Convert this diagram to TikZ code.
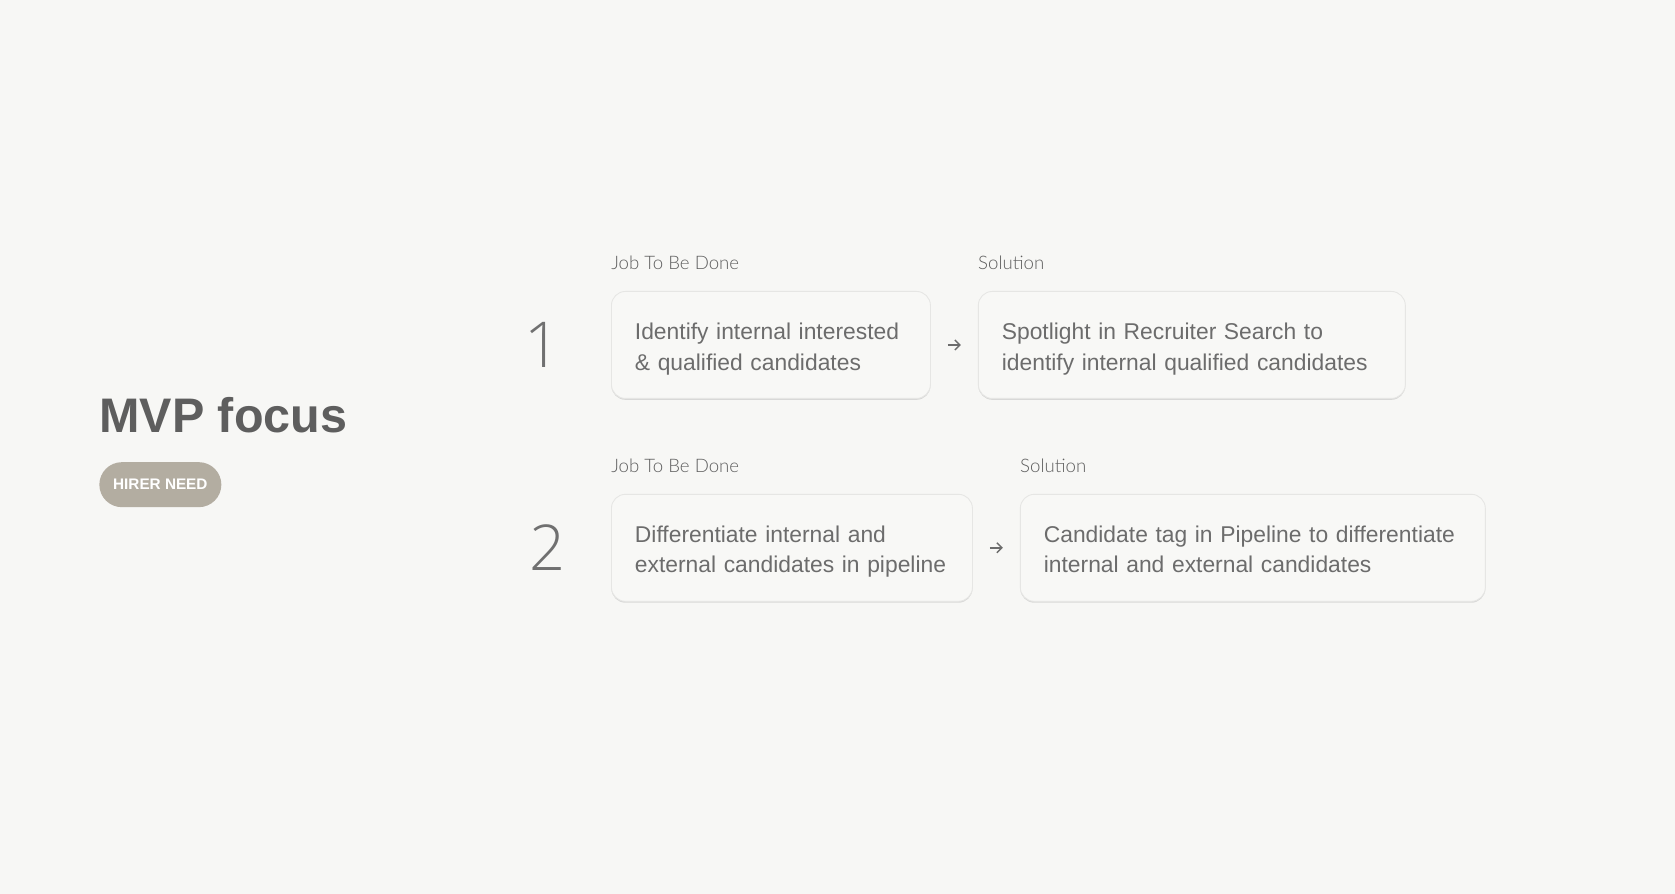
\documentclass[tikz,border=0pt]{standalone}
\usepackage{fontspec}
\setmainfont{Liberation Sans}
\newfontfamily\thinfont{Lato Light}
\newfontfamily\hairfont{Open Sans Light}
\usetikzlibrary{positioning, calc, shadows, arrows.meta}
\definecolor{bgcol}{HTML}{F7F7F5}
\definecolor{boxfill}{HTML}{F8F8F6}
\definecolor{boxline}{HTML}{E6E6E4}
\definecolor{boxtext}{HTML}{6C6C6C}
\definecolor{titlecol}{HTML}{5E5E5E}
\definecolor{pillcol}{HTML}{B3ADA1}
\definecolor{labelcol}{HTML}{5F5F5F}
\definecolor{numcol}{HTML}{707070}
\tikzstyle{jobbox} = [rectangle, rounded corners=0.28cm, draw=boxline, line width=0.5pt, fill=boxfill, inner xsep=0.47cm, minimum height=2.14cm, align=left, text=boxtext, font=\fontsize{13}{17.2}\selectfont, execute at begin node={\rule{0pt}{0.5cm}}, execute at end node={\rule[-0.1cm]{0pt}{0.1cm}}, drop shadow={shadow xshift=0pt, shadow yshift=-0.8pt, opacity=0.12, fill=black}]
\tikzstyle{colhead} = [inner sep=0pt, text=labelcol, font=\thinfont\fontsize{10.6}{12}\selectfont]
\tikzstyle{stepnum} = [inner sep=0pt, text=numcol, font=\hairfont\fontsize{36}{40}\selectfont]
\tikzstyle{pill} = [rectangle, rounded corners=0.45cm, fill=pillcol, minimum width=2.44cm, minimum height=0.9cm, text=white, font=\fontsize{8.7}{10}\bfseries]
\tikzstyle{arrow} = [-{Straight Barb[length=0.1cm, width=0.2cm]}, line width=0.8pt, draw=boxtext, shorten >=0.34cm, shorten <=0.34cm]

\begin{document}
\begin{tikzpicture}
% page background
\fill [bgcol] (0,0) rectangle (33.5,-17.88);
\useasboundingbox (0,0) rectangle (33.5,-17.88);

% left side
\node (title) [anchor=base west, inner sep=0pt, text=titlecol, font=\fontsize{27.6}{32}\bfseries] at (1.98,-8.66) {MVP focus};
\node (need) [pill, below=0.56cm of title.south west, anchor=north west] {HIRER NEED};

% row 1
\node (jobA) [jobbox, text width=5.44cm, anchor=north west] at (12.22,-5.82) {Identify internal interested\\\& qualified candidates};
\node (solA) [jobbox, text width=7.6cm, right=0.94cm of jobA] {Spotlight in Recruiter Search to\\identify internal qualified candidates};
\node (headA) [colhead, above=0.42cm of jobA.north west, anchor=south west] {Job To Be Done};
\node (headB) [colhead, above=0.42cm of solA.north west, anchor=south west] {Solution};
\node (numA) [stepnum] at ($(jobA.west)+(-1.36,0)$) {1};

% row 2
\node (jobB) [jobbox, text width=6.28cm, below=1.9cm of jobA.south west, anchor=north west] {Differentiate internal and\\external candidates in pipeline};
\node (solB) [jobbox, text width=8.36cm, right=0.94cm of jobB] {Candidate tag in Pipeline to differentiate\\internal and external candidates};
\node (headC) [colhead, above=0.42cm of jobB.north west, anchor=south west] {Job To Be Done};
\node (headD) [colhead, above=0.42cm of solB.north west, anchor=south west] {Solution};
\node (numB) [stepnum] at ($(jobB.west)+(-1.26,0)$) {2};

% connectors
\draw [arrow] (jobA) -- (solA);
\draw [arrow] (jobB) -- (solB);
\end{tikzpicture}
\end{document}
